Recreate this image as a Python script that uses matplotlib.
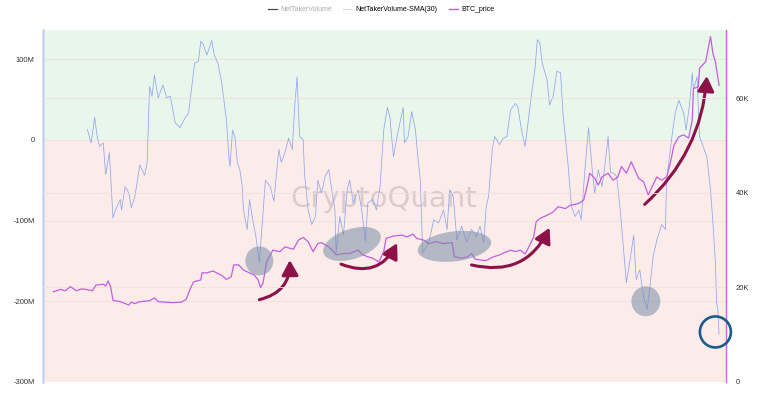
import matplotlib.pyplot as plt
from matplotlib.lines import Line2D
from matplotlib.patches import Ellipse
from matplotlib.transforms import ScaledTranslation

plt.rcParams['font.family'] = ['Liberation Sans', 'DejaVu Sans']

# NetTakerVolume-SMA(30), millions, x = days from start of the window
sma_days = [
    29, 32, 33, 35, 37, 39, 42, 44, 47, 50,
    52, 56, 57, 60, 63, 65, 68, 72, 76, 78,
    80, 82, 84, 87, 91, 94, 97, 101, 105, 109,
    112, 115, 117, 120, 122, 124, 127, 131, 133, 136,
    139, 143, 145, 146, 148, 150, 152, 154, 156, 157,
    160, 162, 165, 167, 170, 172, 175, 179, 182, 184,
    186, 188, 191, 194, 197, 199, 201, 203, 206, 207,
    210, 213, 216, 218, 221, 224, 227, 229, 232, 233,
    236, 239, 242, 244, 247, 251, 254, 257, 259, 263,
    266, 269, 272, 275, 277, 280, 283, 285, 288, 289,
    292, 295, 298, 300, 302, 303, 304, 309, 313, 317,
    321, 324, 326, 329, 332, 336, 340, 344, 348, 351,
    354, 356, 358, 361, 363, 367, 370, 373, 376, 380,
    382, 385, 388, 391, 393, 396, 398, 400, 402, 406,
    408, 411, 414, 417, 419, 423, 426, 429, 432, 434,
    437, 440, 443, 445, 448, 451, 453, 456, 458, 460,
    463, 466, 468, 471, 474, 477, 479, 482, 485, 488,
    490, 493, 496, 500, 503, 504, 508, 511, 514, 518,
    520, 523, 525, 526, 529, 531, 537, 540, 542, 544,
    545, 546, 547,
]
sma_vals = [
    13, -4, 6, 28, 4, -8, -4, -43, -16, -97,
    -87, -74, -87, -58, -66, -84, -70, -31, -44, -28,
    66, 54, 80, 52, 68, 52, 54, 21, 15, 27,
    33, 71, 95, 97, 122, 118, 105, 123, 105, 95,
    72, 25, -21, -33, 12, 4, -28, -37, -58, -87,
    -111, -74, -103, -118, -152, -111, -50, -58, -76, -43,
    -12, -28, -16, 2, -12, 41, 78, 4, 0, -41,
    -87, -105, -95, -50, -66, -45, -37, -58, -87, -140,
    -95, -118, -62, -50, -78, -62, -87, -126, -78, -74,
    -87, -58, 12, 40, 29, -21, 4, 19, 40, -4,
    4, 35, 12, -21, -50, -95, -140, -127, -99, -103,
    -87, -111, -62, -70, -124, -107, -127, -111, -120, -107,
    -127, -83, -70, -12, 4, -6, 2, 4, 37, 45,
    41, 12, -8, 29, 54, 87, 124, 120, 95, 74,
    43, 54, 85, 83, 33, -28, -83, -95, -87, -99,
    -37, 15, -37, -66, -37, -58, -37, 4, -41, -41,
    -45, -87, -124, -177, -149, -118, -173, -161, -194, -210,
    -186, -144, -124, -105, -111, -50, 0, 33, 49, 33,
    12, 46, 83, 62, 78, 4, -21, -62, -103, -152,
    -202, -210, -241,
]

# BTC price, thousands USD
price_days = [
    1, 7, 11, 15, 20, 24, 28, 33, 36, 42,
    44, 46, 48, 50, 56, 63, 65, 68, 72, 80,
    84, 87, 99, 106, 110, 113, 116, 122, 123, 127,
    132, 135, 139, 143, 147, 149, 153, 157, 162, 166,
    169, 171, 173, 176, 181, 187, 191, 198, 202, 206,
    210, 214, 218, 221, 227, 231, 233, 239, 244, 251,
    255, 259, 263, 268, 272, 274, 280, 287, 291, 296,
    299, 305, 309, 315, 321, 328, 330, 336, 341, 344,
    347, 352, 356, 362, 367, 371, 376, 380, 384, 388,
    391, 395, 397, 400, 406, 411, 415, 421, 425, 432,
    436, 438, 441, 445, 448, 451, 456, 460, 464, 467,
    471, 475, 478, 481, 485, 489, 492, 496, 500, 504,
    507, 510, 514, 518, 522, 525, 526, 530, 531, 536,
    540, 542, 544, 547,
]
price_vals = [
    19.0, 19.5, 19.2, 20.1, 19.2, 19.6, 19.5, 19.2, 20.4, 20.6,
    20.2, 21.3, 20.1, 17.2, 16.9, 16.2, 16.8, 16.5, 16.9, 17.1,
    17.7, 16.9, 16.7, 16.8, 17.4, 19.4, 21.1, 21.5, 23.0, 23.0,
    23.4, 23.0, 22.5, 21.6, 22.2, 24.7, 24.7, 23.6, 23.0, 22.5,
    21.5, 19.9, 20.8, 25.3, 27.8, 27.5, 28.5, 28.0, 29.9, 30.5,
    29.6, 27.5, 29.2, 29.4, 28.5, 27.5, 26.8, 27.1, 27.1, 27.8,
    26.8, 26.4, 26.1, 25.3, 27.5, 30.3, 30.8, 31.0, 30.6, 31.2,
    30.3, 29.9, 29.2, 29.6, 29.2, 29.4, 26.4, 26.1, 26.4, 27.1,
    25.9, 25.7, 25.6, 26.4, 26.8, 27.3, 27.8, 27.5, 27.8, 27.0,
    28.5, 30.6, 33.8, 34.5, 35.2, 35.9, 37.0, 36.6, 37.3, 37.7,
    38.4, 40.5, 44.1, 43.0, 41.6, 43.3, 44.1, 42.6, 43.3, 45.5,
    44.1, 46.5, 44.8, 43.0, 42.3, 39.5, 41.2, 43.3, 42.6, 43.3,
    46.2, 50.0, 51.8, 52.2, 51.5, 55.3, 62.0, 62.4, 66.3, 67.7,
    73.0, 69.4, 67.7, 62.7,
]

left_ticks = [100, 0, -100, -200, -300]
left_labels = ['100M', '0', '-100M', '-200M', '-300M']
right_ticks = [0, 20, 40, 60]
right_labels = ['0', '20K', '40K', '60K']

# annotations: (day, NetTakerVolume M)
blob_centers = [(170, -150), (246, -129), (330, -132), (487, -200)]
blob_sizes = [(28, 29, 0), (60, 30, 18), (74, 30, 7), (29, 30, 0)]  # px w, px h, angle
arrow_starts = [(170, -198), (237, -154), (344, -155), (486, -80)]
arrow_tips = [(195, -149), (283, -128), (408, -109), (537, 79)]
arrow_rads = [0.4, 0.45, 0.4, 0.2]
ring_center = (544, -238)

fig = plt.figure(figsize=(7.67, 3.94), dpi=100)
ax = fig.add_axes([43 / 767, 12 / 394, 683 / 767, 352 / 394])
ax2 = ax.twinx()

ax.axhspan(0, 200, color='#e9f6ec', zorder=0, lw=0)
ax.axhspan(-400, 0, color='#fbecea', zorder=0, lw=0)
for t in left_ticks[:-1]:
    ax.axhline(t, color='#ecdfdd', lw=0.6, zorder=0.5)
for t in right_ticks[1:]:
    ax2.axhline(t, color='#ecdfdd', lw=0.6, zorder=0.5)

ax.text(272, -73, 'CryptoQuant', ha='center', va='center', fontsize=21,
        color='#6e5866', alpha=0.22, family='DejaVu Sans', zorder=1)

ax.plot(sma_days, sma_vals, color='#90a4ec', lw=0.55, zorder=2)
ax2.plot(price_days, price_vals, color='#c45ddf', lw=0.9, zorder=2)

for (cx, cy), (w, h, ang) in zip(blob_centers, blob_sizes):
    tr = fig.dpi_scale_trans + ScaledTranslation(cx, cy, ax.transData)
    ax2.add_artist(Ellipse((0, 0), w / 100, h / 100, angle=ang, transform=tr,
                           facecolor='#7b8ea8', alpha=0.55, lw=0, zorder=3))

tr = fig.dpi_scale_trans + ScaledTranslation(*ring_center, ax.transData)
ax2.add_artist(Ellipse((0, 0), 0.31, 0.31, transform=tr, facecolor='none',
                       edgecolor='#1d5b8c', lw=1.9, zorder=4, clip_on=False))

for s, t, r in zip(arrow_starts, arrow_tips, arrow_rads):
    ax.annotate('', xy=t, xytext=s, xycoords='data', textcoords='data',
                arrowprops=dict(arrowstyle='-|>,head_length=0.9,head_width=0.5',
                                connectionstyle=f'arc3,rad={r}', color='#8c1148',
                                lw=2.2, shrinkA=0, shrinkB=0),
                zorder=5, annotation_clip=False)

ax.set_xlim(-7.4, 552.7)
ax.set_ylim(-300, 136)
ax2.set_ylim(-0.1, 74.4)

ax.set_yticks(left_ticks, left_labels)
ax2.set_yticks(right_ticks, right_labels)
ax.set_xticks([])
ax.tick_params(axis='y', length=0, labelsize=5.5, pad=6, labelcolor='#333333')
ax2.tick_params(axis='y', length=0, labelsize=5.5, pad=7, labelcolor='#333333')

for a in (ax, ax2):
    for side in ('top', 'bottom', 'left', 'right'):
        a.spines[side].set_visible(False)
ax.spines['left'].set_visible(True)
ax.spines['left'].set_color('#c5d4f7')
ax.spines['left'].set_linewidth(1.8)
ax2.spines['right'].set_visible(True)
ax2.spines['right'].set_color('#c866e0')
ax2.spines['right'].set_linewidth(1.0)

# bring the annotation axes above the volume line
ax2.set_zorder(ax.get_zorder() + 1)
ax2.patch.set_visible(False)

handles = [
    Line2D([], [], color='#4a4a4a', lw=0.9),
    Line2D([], [], color='#9aaae8', lw=0.7, ls=(0, (1, 1))),
    Line2D([], [], color='#c45ddf', lw=1.0),
]
leg = fig.legend(handles, ['NetTakerVolume', 'NetTakerVolume-SMA(30)', 'BTC_price'],
                 loc='upper center', bbox_to_anchor=(0.497, 1.0), ncol=3, frameon=False,
                 fontsize=5.0, handlelength=1.3, handletextpad=0.5, columnspacing=1.6)
leg.get_texts()[0].set_color('#aaaaaa')

fig.savefig('out.png', dpi=100)
